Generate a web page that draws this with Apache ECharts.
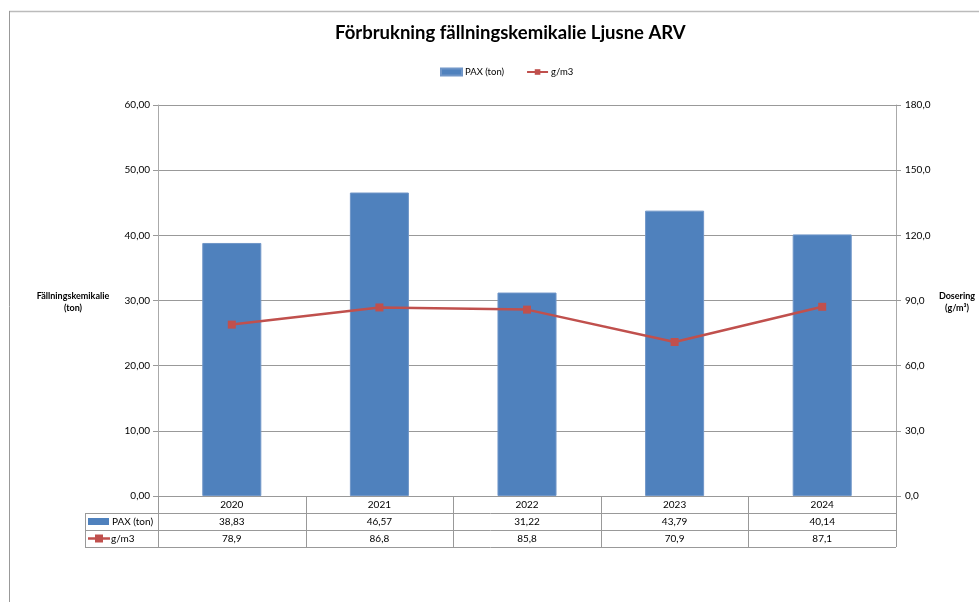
<!DOCTYPE html>
<html><head><meta charset="utf-8">
<script src="https://cdn.jsdelivr.net/npm/echarts@6/dist/echarts.min.js"></script>
<style>html,body{margin:0;padding:0;background:#fff}#c{width:979px;height:602px}</style>
</head><body><div id="c"></div>
<script>
const years = ['2020','2021','2022','2023','2024'];
const pax = [38.83, 46.57, 31.22, 43.79, 40.14];
const dose = [78.9, 86.8, 85.8, 70.9, 87.1];
const paxLabels = ['38,83','46,57','31,22','43,79','40,14'];
const doseLabels = ['78,9','86,8','85,8','70,9','87,1'];
const seriesNames = ['PAX (ton)', 'g/m3'];

const FONT = 'Lato';
const chart = echarts.init(document.getElementById('c'), null, {renderer:'canvas'});
const fmt = (v, d) => v.toFixed(d).replace('.', ',');
const option = {
  animation: false,
  textStyle: {fontFamily: FONT},
  title: {text: 'Förbrukning fällningskemikalie Ljusne ARV', left: 330, top: 19,
    textStyle: {fontFamily: FONT, fontSize: 18.5, fontWeight: 'bold', color: '#000'}},
  legend: {top: 62, left: 435, itemGap: 22, itemWidth: 21, itemHeight: 7,
    textStyle: {fontFamily: FONT, fontSize: 9.5, color: '#000', padding: [0, 0, 0, -2]},
    data: [{name: seriesNames[0], icon: 'rect'}, {name: seriesNames[1]}]},
  grid: {left: 158, right: 83, top: 105, bottom: 106, containLabel: false},
  xAxis: {type: 'category', data: years,
    axisLine: {show: true, lineStyle: {color: '#999'}},
    axisTick: {show: false},
    axisLabel: {fontFamily: FONT, fontSize: 10, color: '#000', margin: 4}},
  yAxis: [
    {type: 'value', min: 0, max: 60, interval: 10, position: 'left',
     axisLine: {show: true, lineStyle: {color: '#aaa'}},
     axisTick: {show: true, length: 5, lineStyle: {color: '#999'}},
     axisLabel: {fontFamily: FONT, fontSize: 10, color: '#000', margin: 8, formatter: v => fmt(v, 2)},
     splitLine: {lineStyle: {color: '#999'}}},
    {type: 'value', min: 0, max: 180, interval: 30, position: 'right',
     axisLine: {show: true, lineStyle: {color: '#aaa'}},
     axisTick: {show: true, length: 5, lineStyle: {color: '#999'}},
     axisLabel: {fontFamily: FONT, fontSize: 10, color: '#000', margin: 9, formatter: v => fmt(v, 1)},
     splitLine: {show: false}}
  ],
  series: [
    {name: seriesNames[0], type: 'bar', data: pax, barWidth: '40%', yAxisIndex: 0,
     itemStyle: {color: '#4F81BD', borderColor: '#7096C8', borderWidth: 1}},
    {name: seriesNames[1], type: 'line', data: dose, yAxisIndex: 1,
     symbol: 'rect', symbolSize: 8,
     lineStyle: {color: '#C0504D', width: 2.5}, itemStyle: {color: '#C0504D'}}
  ]
};
chart.setOption(option);

// data table under the plot
const c0 = chart.convertToPixel({xAxisIndex: 0}, 0);
const c1 = chart.convertToPixel({xAxisIndex: 0}, 1);
const band = c1 - c0;
const gx0 = c0 - band / 2;
const gx1 = gx0 + band * years.length;
const gy = chart.convertToPixel({yAxisIndex: 0}, 0);
const rowH = 17;
const tableLeft = 85;
const lc = '#999';
const g = [];
const line = (x1, y1, x2, y2, col, w) => g.push({type: 'line', silent: true,
  shape: {x1, y1, x2, y2}, style: {stroke: col || lc, lineWidth: w || 1}});
// outer frame
line(9, 11.5, 979, 11.5, '#bbb', 1.5);
line(9.5, 11, 9.5, 602, '#999', 1);
// table
for (let r = 1; r <= 3; r++) line(tableLeft, Math.round(gy + rowH * r) + 0.5, gx1, Math.round(gy + rowH * r) + 0.5);
line(tableLeft + 0.5, gy + rowH, tableLeft + 0.5, gy + rowH * 3);
for (let i = 0; i <= years.length; i++) {
  const x = Math.round(gx0 + band * i) + 0.5;
  line(x, gy, x, gy + rowH * 3);
}
const rows = [paxLabels, doseLabels];
rows.forEach((vals, r) => {
  const yc = gy + rowH * (r + 1) + rowH / 2;
  vals.forEach((t, i) => g.push({type: 'text', silent: true,
    style: {text: t, x: gx0 + band * (i + 0.5), y: yc, align: 'center', verticalAlign: 'middle',
      font: '10px ' + FONT, fill: '#000'}}));
});
// row keys
let y1 = gy + rowH * 1.5;
g.push({type: 'rect', silent: true, shape: {x: 88, y: y1 - 3.5, width: 21, height: 7}, style: {fill: '#4F81BD'}});
g.push({type: 'text', silent: true, style: {text: seriesNames[0], x: 112, y: y1, verticalAlign: 'middle', font: '10px ' + FONT, fill: '#000'}});
let y2 = gy + rowH * 2.5;
line(88, y2, 110, y2, '#C0504D', 2.5);
g.push({type: 'rect', silent: true, shape: {x: 95, y: y2 - 4, width: 8, height: 8}, style: {fill: '#C0504D'}});
g.push({type: 'text', silent: true, style: {text: seriesNames[1], x: 111, y: y2, verticalAlign: 'middle', font: '10px ' + FONT, fill: '#000'}});
// axis names
const ymid = chart.convertToPixel({yAxisIndex: 0}, 30);
g.push({type: 'text', silent: true, style: {text: 'Fällningskemikalie\n(ton)', x: 73, y: ymid + 2, align: 'center', verticalAlign: 'middle',
  font: 'bold 9px ' + FONT, fill: '#000', lineHeight: 12}});
g.push({type: 'text', silent: true, style: {text: 'Dosering\n(g/m³)', x: 957, y: ymid + 2, align: 'center', verticalAlign: 'middle',
  font: 'bold 9px ' + FONT, fill: '#000', lineHeight: 12}});
chart.setOption({graphic: {elements: g}});
</script></body></html>
